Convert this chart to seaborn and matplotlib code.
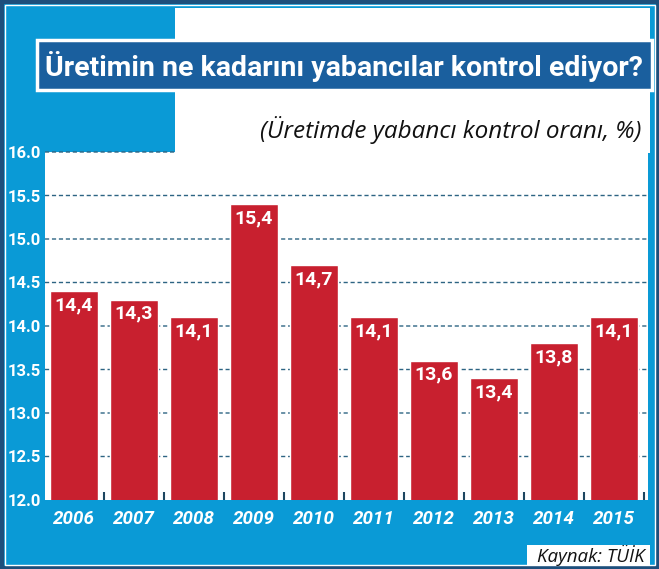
import matplotlib
matplotlib.use("Agg")
import matplotlib.pyplot as plt
from matplotlib.patches import Rectangle
from matplotlib.ticker import FixedLocator
import pandas as pd
import seaborn as sns

# veriler
years = ["2006", "2007", "2008", "2009", "2010", "2011", "2012", "2013", "2014", "2015"]
values = [14.4, 14.3, 14.1, 15.4, 14.7, 14.1, 13.6, 13.4, 13.8, 14.1]
y_ticks = [12.0, 12.5, 13.0, 13.5, 14.0, 14.5, 15.0, 15.5, 16.0]

title = "Üretimin ne kadarını yabancılar kontrol ediyor?"
subtitle = "(Üretimde yabancı kontrol oranı, %)"
source = "Kaynak: TÜİK"

LIGHT_BLUE = "#0a9ad6"
DARK_BLUE = "#1a5f9e"
FRAME = "#1d4f7c"
RED = "#c8202f"
GRID = "#2d6483"

sns.set_theme(style="white")
plt.rcParams["font.family"] = ["Roboto", "DejaVu Sans"]
plt.rcParams["axes.axisbelow"] = False

W, H = 659, 569
fig = plt.figure(figsize=(W / 100, H / 100), dpi=100)
fig.patch.set_facecolor(LIGHT_BLUE)


def px_rect(x0, y0, x1, y1, **kw):
    # piksel koordinatlarindan (ust-sol orijin) dikdortgen
    r = Rectangle((x0 / W, 1 - y1 / H), (x1 - x0) / W, (y1 - y0) / H,
                  transform=fig.transFigure, **kw)
    fig.patches.append(r)
    return r


# dis cerceve
px_rect(1.5, 1.5, W - 1.5, H - 1.5, facecolor="none", edgecolor=FRAME, linewidth=3, zorder=0)
px_rect(4.5, 4.5, W - 4.5, H - 4.5, facecolor="none", edgecolor="white", linewidth=1, zorder=0)
# ust beyaz alan
px_rect(175, 8, 650, 153, facecolor="white", edgecolor="none", zorder=0)
# baslik bandi
px_rect(37, 40, 652, 90, facecolor=DARK_BLUE, edgecolor="white", linewidth=2.5, zorder=1)
fig.text(45 / W, 1 - 66 / H, title, color="white", fontsize=20.5, fontweight="bold",
         ha="left", va="center", zorder=2)
fig.text(641 / W, 1 - 130 / H, subtitle, color="#111111", fontsize=17.5, style="italic",
         family=["Open Sans", "DejaVu Sans"], ha="right", va="center")

# kaynak kutusu
px_rect(527, 545, 650, 565, facecolor="white", edgecolor="none", zorder=0)
fig.text(645 / W, 1 - 555 / H, source, color="#111111", fontsize=13.5, style="italic",
         family=["Open Sans", "DejaVu Sans"], ha="right", va="center")

# grafik
ax_l, ax_r, ax_t, ax_b = 45, 648, 152, 500
ax = fig.add_axes([ax_l / W, 1 - ax_b / H, (ax_r - ax_l) / W, (ax_b - ax_t) / H])
ax.set_facecolor("white")

df = pd.DataFrame({"year": years, "value": values})
sns.barplot(data=df, x="year", y="value", color=RED, saturation=1, width=0.8, ax=ax, zorder=3)

ax.set_ylim(12, 16)
ax.set_xlim(-0.483, 9.567)
ax.set_yticks(y_ticks)
ax.set_yticklabels([f"{t:.1f}" for t in y_ticks], color="white", fontsize=12, fontweight="bold")
ax.set_xticks(range(len(years)))
ax.set_xticklabels(years, color="white", fontsize=13.5, fontweight="bold", style="italic")
# cubuklar arasindaki kucuk cizgiler
ax.xaxis.set_minor_locator(FixedLocator([i + 0.5 for i in range(len(years))]))
ax.tick_params(axis="y", length=0, pad=3)
ax.tick_params(axis="x", which="major", length=0, pad=7)
ax.tick_params(axis="x", which="minor", bottom=True, top=False, direction="in",
               length=6, color="#1d4660", width=1.5)
ax.set_xlabel("")
ax.set_ylabel("")

for t in y_ticks[1:]:
    ax.axhline(t, color=GRID, linestyle=(0, (3, 2)), linewidth=1.0, zorder=1, clip_on=False, snap=False)

for sp in ax.spines.values():
    sp.set_visible(False)

for i, v in enumerate(values):
    ax.text(i, v - 0.16, f"{v:.1f}".replace(".", ","), color="white", fontsize=14,
            fontweight="bold", ha="center", va="center", zorder=4)

fig.savefig("out.png", dpi=100, facecolor=fig.get_facecolor())
